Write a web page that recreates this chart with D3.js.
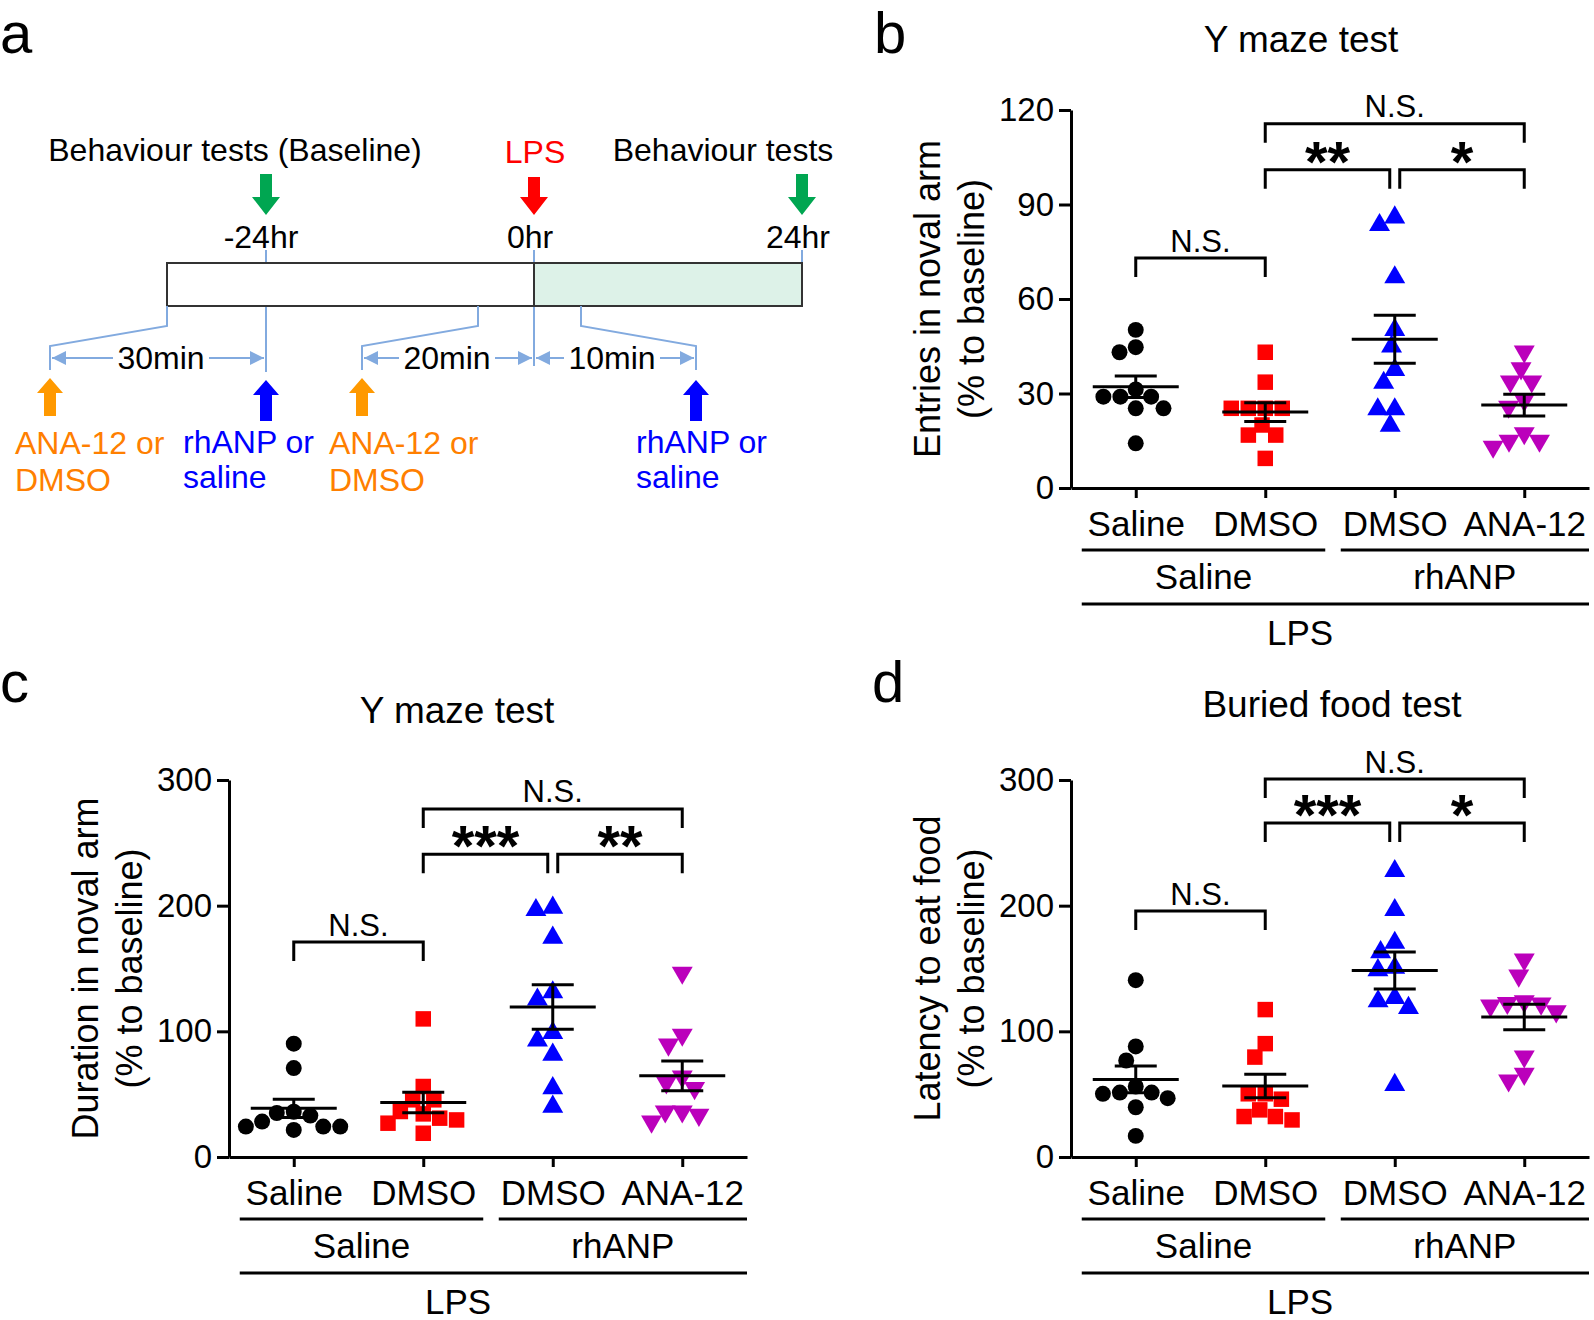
<!DOCTYPE html>
<html>
<head>
<meta charset="utf-8">
<script src="https://cdn.jsdelivr.net/npm/d3@7"></script>
<style>
  body { margin: 0; background: #fff; }
  svg { display: block; font-family: "Liberation Sans", Arial, sans-serif; }
</style>
</head>
<body>
<svg id="fig" width="1594" height="1320"></svg>
<script>
// ---- values (% to baseline), order: Saline/Saline, Saline/DMSO, rhANP/DMSO, rhANP/ANA-12
var groupNames = ["Saline", "DMSO", "DMSO", "ANA-12"];
var pretreatNames = ["Saline", "rhANP"];
var outerName = "LPS";

var entriesNovalArm = [
  [50.2, 43.1, 44.7, 29.0, 29.0, 29.0, 31.3, 25.3, 25.3, 14.2],
  [43.1, 33.6, 25.3, 25.3, 25.3, 25.3, 20.0, 16.8, 16.8, 9.4],
  [83.5, 85.9, 66.9, 50.2, 44.9, 37.5, 33.4, 25.0, 25.0, 19.8],
  [43.3, 38.0, 33.8, 33.8, 27.9, 25.8, 17.4, 15.0, 15.0, 13.1]
];
var durationNovalArm = [
  [90.2, 70.8, 36.0, 35.0, 33.0, 28.2, 24.2, 24.2, 24.2, 21.5],
  [109.9, 56.1, 45.5, 45.5, 36.2, 34.3, 30.9, 29.5, 26.9, 18.9],
  [196.5, 198.4, 174.5, 131.1, 125.3, 98.7, 92.8, 81.4, 54.8, 40.1],
  [146.6, 97.3, 89.4, 64.1, 59.3, 54.8, 36.2, 36.2, 33.5, 28.2]
];
var latencyEatFood = [
  [140.7, 88.0, 76.8, 56.1, 51.3, 51.3, 50.3, 46.8, 39.6, 16.8],
  [117.3, 90.2, 79.5, 50.3, 50.3, 46.0, 37.5, 32.2, 32.2, 29.5],
  [227.6, 196.5, 170.5, 163.0, 150.6, 148.7, 126.6, 123.9, 118.6, 57.4],
  [157.2, 144.4, 122.6, 122.1, 120.5, 123.9, 115.9, 80.0, 66.2, 60.9]
];

var ticksEntries = [0, 30, 60, 90, 120];
var ticksPercent = [0, 100, 200, 300];

// significance brackets: groups compared, height in data units, label
var sigEntries = [
  { a: 0, b: 1, y: 73, label: "N.S." },
  { a: 1, b: 2, y: 101, label: "**" },
  { a: 2, b: 3, y: 101, label: "*" },
  { a: 1, b: 3, y: 115.6, label: "N.S." }
];
var sigDuration = [
  { a: 0, b: 1, y: 171, label: "N.S." },
  { a: 1, b: 2, y: 241, label: "***" },
  { a: 2, b: 3, y: 241, label: "**" },
  { a: 1, b: 3, y: 277, label: "N.S." }
];
var sigLatency = [
  { a: 0, b: 1, y: 195.7, label: "N.S." },
  { a: 1, b: 2, y: 265.7, label: "***" },
  { a: 2, b: 3, y: 265.7, label: "*" },
  { a: 1, b: 3, y: 300.8, label: "N.S." }
];

// timeline of panel a
var timeHours = [-24, 0, 24];

var groupColors = ["#000000", "#ff0000", "#0000ff", "#bb00bb"];
var groupSymbols = [d3.symbolCircle, d3.symbolSquare, d3.symbolTriangle, d3.symbolTriangle];
var symbolSizes = [200, 240, 190, 190];

var svg = d3.select("#fig");

// simple beeswarm so overlapping values spread sideways
function swarm(vals, y, d) {
  var placed = [], xs = new Array(vals.length);
  var order = d3.range(vals.length).sort(function(i, j) { return vals[j] - vals[i]; });
  order.forEach(function(i) {
    var yi = y(vals[i]);
    var cands = [0];
    placed.forEach(function(p) {
      var dy = yi - p.y;
      if (Math.abs(dy) < d) {
        var dx = Math.sqrt(d * d - dy * dy);
        cands.push(p.x + dx, p.x - dx);
      }
    });
    cands.sort(function(a, b) { return Math.abs(a) - Math.abs(b) || a - b; });
    var xi = cands.find(function(c) {
      return placed.every(function(p) { return (c - p.x) * (c - p.x) + (yi - p.y) * (yi - p.y) >= d * d - 0.01; });
    });
    xs[i] = xi;
    placed.push({ x: xi, y: yi });
  });
  return xs;
}

function scatterPanel(opt) {
  var W = 518;
  var g = svg.append("g").attr("transform", "translate(" + opt.left + "," + opt.top + ")");

  var x = d3.scalePoint().domain(d3.range(groupNames.length)).range([0, W]).padding(0.5);
  var y = d3.scaleLinear().domain([0, opt.max]).range([opt.h, 0]);

  // axes
  var yAxis = g.append("g").call(d3.axisLeft(y).tickValues(opt.ticks).tickSize(12).tickPadding(5).tickSizeOuter(0));
  yAxis.selectAll("text").attr("font-size", 33).attr("fill", "#000");
  var xAxis = g.append("g").attr("transform", "translate(0," + opt.h + ")")
    .call(d3.axisBottom(x).tickSize(10).tickPadding(13).tickSizeOuter(0).tickFormat(function(i) { return groupNames[i]; }));
  xAxis.selectAll("text").attr("font-size", 35).attr("fill", "#000");
  g.selectAll(".domain, .tick line").attr("stroke", "#000").attr("stroke-width", 3);
  g.selectAll(".tick text").attr("font-family", null);

  // group lines under the axis
  var lines = [
    { x1: x(0) - 54, x2: x(1) + 60, yy: opt.h + 62, label: pretreatNames[0], ly: opt.h + 88 },
    { x1: x(2) - 54, x2: W, yy: opt.h + 62, label: pretreatNames[1], ly: opt.h + 88 }
  ];
  lines.forEach(function(l) {
    g.append("line").attr("x1", l.x1).attr("x2", l.x2).attr("y1", l.yy).attr("y2", l.yy)
      .attr("stroke", "#000").attr("stroke-width", 3);
    g.append("text").attr("x", (l.x1 + l.x2) / 2).attr("y", l.ly).attr("text-anchor", "middle")
      .attr("dominant-baseline", "central").attr("font-size", 35).text(l.label);
  });
  g.append("line").attr("x1", x(0) - 54).attr("x2", W).attr("y1", opt.h + 116).attr("y2", opt.h + 116)
    .attr("stroke", "#000").attr("stroke-width", 3);
  g.append("text").attr("x", 229).attr("y", opt.h + 144).attr("text-anchor", "middle")
    .attr("dominant-baseline", "central").attr("font-size", 35).text(outerName);

  // title and y label
  g.append("text").attr("x", opt.titleX).attr("y", opt.titleY).attr("text-anchor", "middle")
    .attr("dominant-baseline", "central").attr("font-size", 37).text(opt.title);
  opt.ylab.forEach(function(t, k) {
    g.append("text").attr("transform", "translate(" + (k === 0 ? -144 : -100) + "," + (opt.h / 2) + ") rotate(-90)")
      .attr("text-anchor", "middle").attr("dominant-baseline", "central").attr("font-size", 36).text(t);
  });

  // points
  opt.data.forEach(function(vals, gi) {
    var xs = swarm(vals, y, 17);
    var sym = d3.symbol().type(groupSymbols[gi]).size(symbolSizes[gi]);
    g.append("g").selectAll("path").data(vals).join("path")
      .attr("d", sym)
      .attr("transform", function(v, i) {
        return "translate(" + (x(gi) + xs[i]) + "," + y(v) + ")" + (gi === 3 ? " rotate(180)" : "");
      })
      .attr("fill", groupColors[gi]);
  });

  // mean +/- SEM
  opt.data.forEach(function(vals, gi) {
    var m = d3.mean(vals), sem = d3.deviation(vals) / Math.sqrt(vals.length);
    var cx = x(gi);
    var eb = g.append("g").attr("stroke", "#000").attr("stroke-width", 3);
    eb.append("line").attr("x1", cx - 43).attr("x2", cx + 43).attr("y1", y(m)).attr("y2", y(m));
    eb.append("line").attr("x1", cx).attr("x2", cx).attr("y1", y(m - sem)).attr("y2", y(m + sem));
    [m - sem, m + sem].forEach(function(v) {
      eb.append("line").attr("x1", cx - 21).attr("x2", cx + 21).attr("y1", y(v)).attr("y2", y(v));
    });
  });

  // significance brackets
  opt.sig.forEach(function(s) {
    var x1 = x(s.a), x2 = x(s.b);
    if (s.b - s.a === 1 && s.a === 1) x2 -= 5;
    if (s.b - s.a === 1 && s.a === 2) x1 += 5;
    var yt = y(s.y);
    g.append("path").attr("d", "M" + x1 + "," + (yt + 19) + "V" + yt + "H" + x2 + "V" + (yt + 19))
      .attr("fill", "none").attr("stroke", "#000").attr("stroke-width", 3);
    var star = s.label.indexOf("*") === 0;
    g.append("text").attr("x", (x1 + x2) / 2).attr("y", star ? yt + 12 : yt - 17)
      .attr("text-anchor", "middle").attr("dominant-baseline", star ? "alphabetic" : "central")
      .attr("font-weight", star ? "bold" : null)
      .attr("font-size", star ? 58 : 31).text(s.label);
  });
}

scatterPanel({ left: 1071, top: 110, h: 378, max: 120, ticks: ticksEntries, data: entriesNovalArm,
  title: "Y maze test", titleX: 230, titleY: -71, ylab: ["Entries in noval arm", "(% to baseline)"], sig: sigEntries });
scatterPanel({ left: 229, top: 780, h: 377, max: 300, ticks: ticksPercent, data: durationNovalArm,
  title: "Y maze test", titleX: 228, titleY: -70, ylab: ["Duration in noval arm", "(% to baseline)"], sig: sigDuration });
scatterPanel({ left: 1071, top: 780, h: 377, max: 300, ticks: ticksPercent, data: latencyEatFood,
  title: "Buried food test", titleX: 261, titleY: -76, ylab: ["Latency to eat food", "(% to baseline)"], sig: sigLatency });

// ---- panel a: timeline schematic
(function() {
  var a = svg.append("g");
  var t = d3.scaleLinear().domain([-24, 24]).range([266, 802]);
  var blue = "#82aadf";

  function blockArrow(cx, yTail, yTip, color, shaft, head, headLen) {
    var dir = yTip > yTail ? 1 : -1, yh = yTip - dir * headLen;
    a.append("path").attr("fill", color).attr("d",
      "M" + (cx - shaft) + "," + yTail + "L" + (cx + shaft) + "," + yTail + "L" + (cx + shaft) + "," + yh +
      "L" + (cx + head) + "," + yh + "L" + cx + "," + yTip + "L" + (cx - head) + "," + yh + "L" + (cx - shaft) + "," + yh + "Z");
  }
  function txt(x, y, s, color, anchor, size) {
    a.append("text").attr("x", x).attr("y", y).attr("text-anchor", anchor || "middle")
      .attr("dominant-baseline", "central").attr("font-size", size || 32).attr("fill", color || "#000").text(s);
  }

  a.append("defs").append("marker").attr("id", "tip").attr("viewBox", "0 0 10 10")
    .attr("refX", 10).attr("refY", 5).attr("markerWidth", 7).attr("markerHeight", 7)
    .attr("orient", "auto-start-reverse").append("path").attr("d", "M0,0L10,5L0,10Z").attr("fill", blue);

  // vertical guide lines at the time points
  a.append("line").attr("x1", t(-24)).attr("x2", t(-24)).attr("y1", 250).attr("y2", 372).attr("stroke", blue).attr("stroke-width", 2);
  a.append("line").attr("x1", t(0)).attr("x2", t(0)).attr("y1", 250).attr("y2", 366).attr("stroke", blue).attr("stroke-width", 2);
  a.append("line").attr("x1", t(24)).attr("x2", t(24)).attr("y1", 250).attr("y2", 263).attr("stroke", blue).attr("stroke-width", 2);

  // timeline box
  a.append("rect").attr("x", 167).attr("y", 263).attr("width", t(0) - 167).attr("height", 43)
    .attr("fill", "#fff").attr("stroke", "#333").attr("stroke-width", 2);
  a.append("rect").attr("x", t(0)).attr("y", 263).attr("width", t(24) - t(0)).attr("height", 43)
    .attr("fill", "#ddf2e8").attr("stroke", "#333").attr("stroke-width", 2);

  // zoom-out brackets below the box
  [[167, 50], [478, 362], [581, 696]].forEach(function(b) {
    a.append("path").attr("d", "M" + b[0] + ",306V326L" + b[1] + ",346V370")
      .attr("fill", "none").attr("stroke", blue).attr("stroke-width", 2);
  });

  // interval arrows
  [[50, t(-24), "30min", 161], [362, t(0), "20min", 447], [t(0), 696, "10min", 612]].forEach(function(d) {
    a.append("line").attr("x1", d[0] + 2).attr("x2", d[1] - 2).attr("y1", 358).attr("y2", 358)
      .attr("stroke", blue).attr("stroke-width", 2)
      .attr("marker-start", "url(#tip)").attr("marker-end", "url(#tip)");
    a.append("rect").attr("x", d[3] - 48).attr("y", 342).attr("width", 96).attr("height", 32).attr("fill", "#fff");
    txt(d[3], 358, d[2]);
  });

  // top labels and arrows
  txt(235, 150, "Behaviour tests (Baseline)");
  txt(535, 152, "LPS", "#ff0000");
  txt(723, 150, "Behaviour tests");
  blockArrow(t(-24), 174, 215, "#00a651", 6, 14, 18);
  blockArrow(t(0), 177, 215, "#ff0000", 6, 14, 18);
  blockArrow(t(24), 174, 215, "#00a651", 6, 14, 18);
  timeHours.forEach(function(h, k) {
    txt(t(h) - [5, 4, 4][k], 237, h + "hr");
  });

  // injection arrows
  blockArrow(50, 416, 378, "#ff9900", 6, 13, 15);
  blockArrow(t(-24), 421, 380, "#0000ff", 6, 13, 15);
  blockArrow(362, 416, 378, "#ff9900", 6, 13, 15);
  blockArrow(696, 421, 380, "#0000ff", 6, 13, 15);

  var orange = "#ff7f00", bl = "#0000ff";
  txt(15, 443, "ANA-12 or", orange, "start");
  txt(15, 480, "DMSO", orange, "start");
  txt(183, 442, "rhANP or", bl, "start");
  txt(183, 477, "saline", bl, "start");
  txt(329, 443, "ANA-12 or", orange, "start");
  txt(329, 480, "DMSO", orange, "start");
  txt(636, 442, "rhANP or", bl, "start");
  txt(636, 477, "saline", bl, "start");
})();

// panel letters
[["a", 0, 53], ["b", 874, 53], ["c", 0, 702], ["d", 872, 702]].forEach(function(p) {
  svg.append("text").attr("x", p[1]).attr("y", p[2]).attr("font-size", 58).text(p[0]);
});
</script>
</body>
</html>
